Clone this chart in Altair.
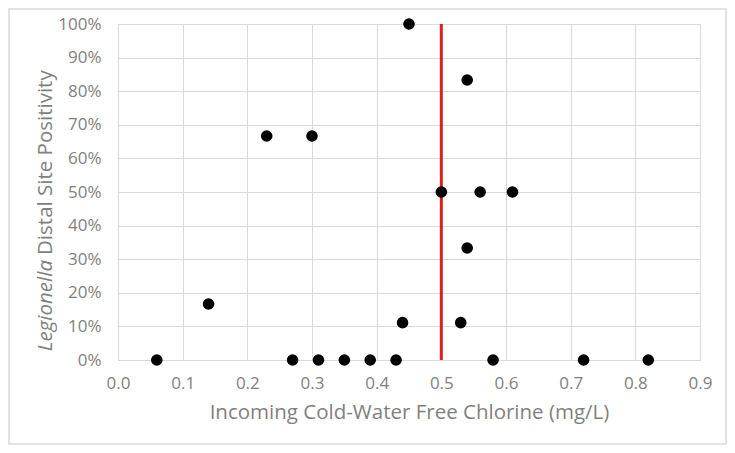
import altair as alt
import pandas as pd

# data
chlorine = [0.06, 0.14, 0.23, 0.30, 0.27, 0.31, 0.35, 0.39, 0.43, 0.44, 0.45,
            0.50, 0.53, 0.54, 0.54, 0.56, 0.58, 0.61, 0.72, 0.82]
positivity = [0.0, 0.1667, 0.6667, 0.6667, 0.0, 0.0, 0.0, 0.0, 0.0, 0.1111, 1.0,
              0.5, 0.1111, 0.8333, 0.3333, 0.5, 0.0, 0.5, 0.0, 0.0]
threshold_x = [0.5]
threshold_y = [0.0]
threshold_y2 = [1.0]
x_ticks = [0.0, 0.1, 0.2, 0.3, 0.4, 0.5, 0.6, 0.7, 0.8, 0.9]
y_ticks = [0.0, 0.1, 0.2, 0.3, 0.4, 0.5, 0.6, 0.7, 0.8, 0.9, 1.0]
x_title = "Incoming Cold-Water Free Chlorine (mg/L)"
y_title_italic = "Legionella"
y_title_rest = "Distal Site Positivity"

FONT = "Open Sans"
TEXT = "#7f7f7f"
GRID = "#d9d9d9"
TICK_FS = 17
TITLE_FS = 20.5

W, H = 582, 336
PAD = {"left": 110, "top": 16, "right": 27, "bottom": 85}

pts = pd.DataFrame({"x": chlorine, "y": positivity})
thr = pd.DataFrame({"x": threshold_x, "y": threshold_y, "y2": threshold_y2})

xs = alt.Scale(domain=[0, 0.9], nice=False, zero=False)
ys = alt.Scale(domain=[0, 1], nice=False)

xaxis = alt.Axis(values=x_ticks, format=".1f", title=x_title, grid=True,
                 ticks=False, domainColor=GRID, gridColor=GRID,
                 labelColor=TEXT, labelFont=FONT, labelFontSize=TICK_FS,
                 labelPadding=15, labelFlush=False, labelOverlap=False,
                 titleColor=TEXT, titleFont=FONT,
                 titleFontSize=TITLE_FS, titleFontWeight="normal", titlePadding=11)
yaxis = alt.Axis(values=y_ticks, format=".0%", title=None, grid=True,
                 ticks=False, domainColor=GRID, gridColor=GRID,
                 labelColor=TEXT, labelFont=FONT, labelFontSize=TICK_FS,
                 labelPadding=17, labelFlush=False, labelOverlap=False,
                 tickCount=11)

points = alt.Chart(pts).mark_point(filled=True, size=135, color="black", opacity=1).encode(
    x=alt.X("x:Q", scale=xs, axis=xaxis),
    y=alt.Y("y:Q", scale=ys, axis=yaxis),
)

rule = alt.Chart(thr).mark_rule(color="#e0201c", strokeWidth=3).encode(
    x=alt.X("x:Q", scale=xs, axis=xaxis),
    y=alt.Y("y:Q", scale=ys, axis=yaxis),
    y2="y2:Q",
)

t1 = alt.Chart(pd.DataFrame({"t": [y_title_italic]})).mark_text(
    angle=270, align="right", baseline="alphabetic", font=FONT, fontSize=TITLE_FS,
    fontStyle="italic", color=TEXT
).encode(text="t:N", x=alt.value(-66), y=alt.value(236))

t2 = alt.Chart(pd.DataFrame({"t": [y_title_rest]})).mark_text(
    angle=270, align="left", baseline="alphabetic", font=FONT, fontSize=TITLE_FS,
    color=TEXT
).encode(text="t:N", x=alt.value(-66), y=alt.value(231))

border = alt.Chart(pd.DataFrame({"a": [0]})).mark_rect(
    fill=None, stroke=GRID, strokeWidth=1.5
).encode(
    x=alt.value(-PAD["left"] + 1),
    x2=alt.value(W + PAD["right"] - 1),
    y=alt.value(-PAD["top"] + 1),
    y2=alt.value(H + PAD["bottom"] - 1),
)

chart = alt.layer(border, rule, points, t1, t2).properties(
    width=W, height=H,
    autosize=alt.AutoSizeParams(type="none"),
    padding=PAD,
    background="white",
).configure_view(stroke=None)

chart.save("out.html", embed_options={"renderer": "svg", "actions": False})
